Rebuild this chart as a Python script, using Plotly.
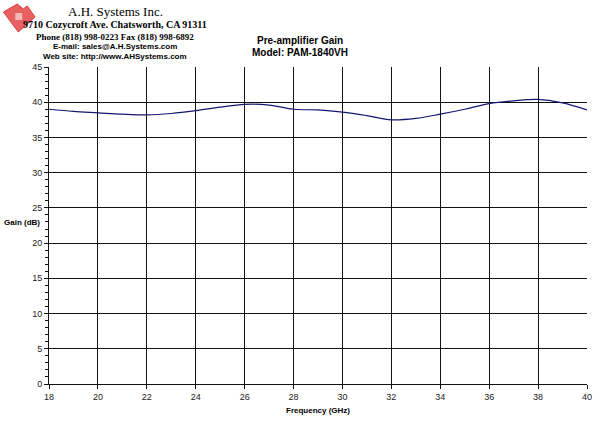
import plotly.graph_objects as go

freq_ghz = [18, 19, 20, 21, 22, 23, 24, 25, 26, 27, 28, 29, 30, 31, 32, 33, 34, 35, 36, 37, 38, 39, 40]
gain_db = [39.0, 38.7, 38.5, 38.3, 38.2, 38.4, 38.8, 39.3, 39.7, 39.6, 39.0, 38.9, 38.6, 38.1, 37.5, 37.7, 38.3, 39.0, 39.8, 40.2, 40.4, 39.9, 38.9]
x_ticks = list(range(18, 41, 2))
y_ticks = list(range(0, 46, 5))

fig = go.Figure()
fig.add_trace(go.Scatter(x=freq_ghz, y=gain_db, mode="lines",
                         line=dict(color="#16166e", width=1.2, shape="spline", smoothing=1.0),
                         hoverinfo="skip", showlegend=False))

axfont = dict(family="Arial, Liberation Sans, sans-serif", size=9, color="#222")
fig.update_layout(
    width=600, height=427,
    margin=dict(l=49, r=8, t=67, b=43),
    paper_bgcolor="white", plot_bgcolor="white",
    showlegend=False,
    xaxis=dict(range=[18, 40], tickvals=x_ticks, ticktext=[str(v) for v in x_ticks],
               showgrid=True, gridcolor="#111", gridwidth=1, zeroline=False,
               showline=True, linecolor="#111", linewidth=1, mirror=False,
               ticks="outside", ticklen=4, tickcolor="#111", tickfont=axfont),
    yaxis=dict(range=[0, 45], tickvals=y_ticks, ticktext=[str(v) for v in y_ticks],
               showgrid=True, gridcolor="#111", gridwidth=1, zeroline=False,
               showline=True, linecolor="#111", linewidth=1,
               ticks="outside", ticklen=4, tickcolor="#111", tickfont=axfont,
               minor=dict(dtick=1, ticks="outside", ticklen=3, tickcolor="#111", showgrid=False)),
)

serif = "Liberation Serif, Times New Roman, serif"
sans = "Arial, Liberation Sans, sans-serif"
ann = []
def px(xp):
    return (xp - 49) / (592 - 49)
def py(yp):
    return (384 - yp) / (384 - 67)
def add(text, x, y, size, family, xanchor="center", color="#000"):
    ann.append(dict(text=text, x=px(x), y=py(y), xref="paper", yref="paper", xanchor=xanchor, yanchor="middle",
                    showarrow=False, font=dict(size=size, family=family, color=color)))

add("A.H. Systems Inc.", 116, 12, 13, serif)
add("<b>9710 Cozycroft Ave. Chatsworth, CA 91311</b>", 116, 25, 10, serif)
add("<b>Phone (818) 998-0223 Fax (818) 998-6892</b>", 116, 37, 9, serif)
add("<b>E-mail: sales@A.H.Systems.com</b>", 116, 47, 8, sans)
add("<b>Web site: http://www.AHSystems.com</b>", 116, 57, 8, sans)
add("<b>Pre-amplifier Gain</b>", 302, 40, 10, sans)
add("<b>Model: PAM-1840VH</b>", 302, 52, 10, sans)
add("<b>Gain (dB)</b>", 2, 222, 8, sans, xanchor="left")
add("<b>Frequency (GHz)</b>", 320, 410, 8, sans)
fig.update_layout(annotations=ann)

# logo (decorative)
fig.add_shape(type="path", xref="paper", yref="paper",
              path=f"M {px(3)} {py(12)} L {px(17)} {py(4)} L {px(23)} {py(9)} L {px(27)} {py(6)} "
                   f"L {px(35)} {py(17)} L {px(18)} {py(32)} Z",
              fillcolor="#e8605f", line=dict(color="#d84040", width=1), layer="below")
fig.add_shape(type="rect", xref="paper", yref="paper",
              x0=px(15), x1=px(22), y0=py(20), y1=py(13),
              fillcolor="#f2b8b8", line=dict(width=0), layer="below")

fig.write_html("out.html")
